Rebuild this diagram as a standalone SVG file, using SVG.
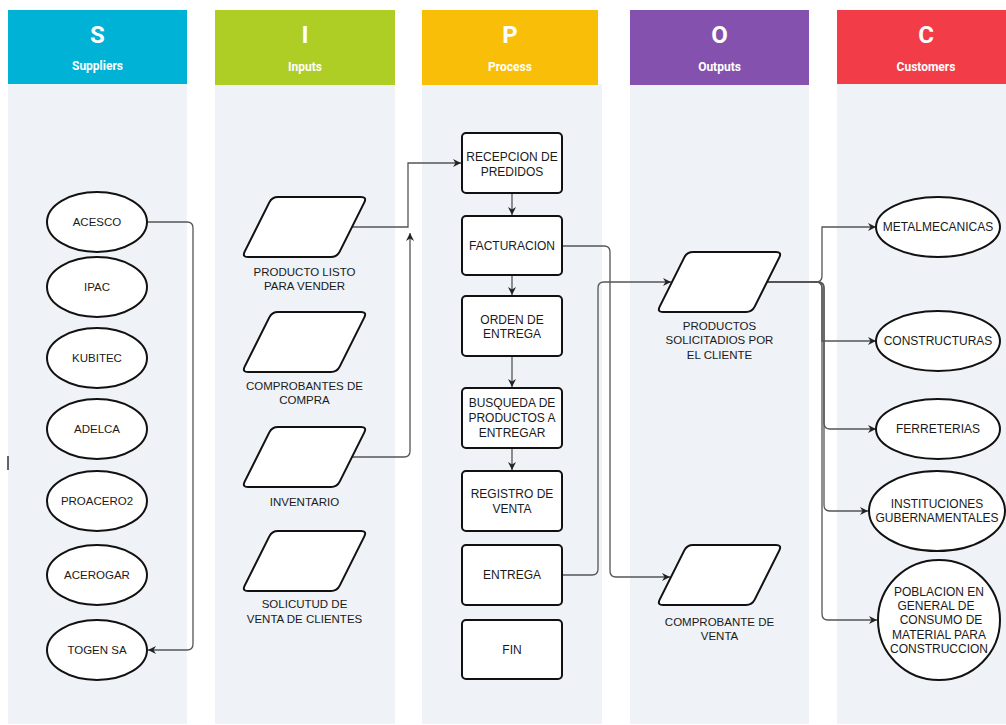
<svg xmlns="http://www.w3.org/2000/svg" xmlns:xlink="http://www.w3.org/1999/xlink" width="1006" height="725" viewBox="0 0 1006 725">
<style>
.body{fill:#eff2f6}
.hl{font-family:Roboto,"Liberation Sans",Arial,sans-serif;font-weight:bold;fill:#fff;text-anchor:middle}
.big{font-size:24px}
.sub{font-size:12px}
.shape{fill:#fff;stroke:#111;stroke-width:2}
.t{font-family:"Liberation Sans",Arial,Helvetica,sans-serif;font-size:11.5px;fill:#1a1a1a;text-anchor:middle}
.t12{font-size:12px}
.c{fill:none;stroke:#555;stroke-width:1.3}
</style>
<defs>
<marker id="arr" markerWidth="10" markerHeight="10" refX="8" refY="4" orient="auto" markerUnits="userSpaceOnUse">
<path d="M0,0 L8,4 L0,8 L2.5,4 z" fill="#222"/>
</marker>
<path id="para" d="M36,0 H119 Q125,0 122.32,5.37 L97.68,54.63 Q95,60 89,60 H6 Q0,60 2.68,54.63 L27.32,5.37 Q30,0 36,0 Z"/>
</defs>
<rect width="1006" height="725" fill="#fff"/>
<g id="columns">
<rect class="body" x="8" y="84" width="179" height="640"/>
<rect class="body" x="215" y="84" width="180" height="640"/>
<rect class="body" x="422" y="84" width="180" height="640"/>
<rect class="body" x="630" y="84" width="179" height="640"/>
<rect class="body" x="837" y="84" width="169" height="640"/>
</g>
<g id="header-s"><rect x="8" y="10" width="179" height="74" fill="#00b2d6"/><text class="hl big" x="97.5" y="43">S</text><text class="hl sub" x="97.5" y="70">Suppliers</text></g>
<g id="header-i"><rect x="215" y="10" width="180" height="75" fill="#aecd25"/><text class="hl big" x="305" y="43">I</text><text class="hl sub" x="305" y="71">Inputs</text></g>
<g id="header-p"><rect x="422" y="10" width="176" height="75" fill="#f9bf08"/><text class="hl big" x="510" y="43">P</text><text class="hl sub" x="510" y="71">Process</text></g>
<g id="header-o"><rect x="630" y="10" width="179" height="75" fill="#8452ae"/><text class="hl big" x="719.5" y="43">O</text><text class="hl sub" x="719.5" y="71">Outputs</text></g>
<g id="header-c"><rect x="837" y="10" width="169" height="74" fill="#f23c47"/><text class="hl big" x="926" y="43">C</text><text class="hl sub" x="926" y="71">Customers</text></g>
<line x1="8" y1="456" x2="8" y2="470" stroke="#333" stroke-width="1.5"/>

<g id="connectors">
<path class="c" d="M147,222 H187 Q193,222 193,228 V644 Q193,650 187,650 H148" marker-end="url(#arr)"/>
<path class="c" d="M352,227 H408 V163 H461" marker-end="url(#arr)"/>
<path class="c" d="M352,457 H404 Q410,457 410,451 V233" marker-end="url(#arr)"/>
<path class="c" d="M512,193 V215" marker-end="url(#arr)"/>
<path class="c" d="M512,275 V295" marker-end="url(#arr)"/>
<path class="c" d="M512,356 V387" marker-end="url(#arr)"/>
<path class="c" d="M512,448 V470" marker-end="url(#arr)"/>
<path class="c" d="M562,246 H604 Q610,246 610,252 V571 Q610,577 616,577 H670" marker-end="url(#arr)"/>
<path class="c" d="M562,575 H592 Q598,575 598,569 V288 Q598,282 604,282 H671" marker-end="url(#arr)"/>
<path class="c" d="M767,282 H816 Q822,282 822,276 V227 H876" marker-end="url(#arr)"/>
<path class="c" d="M767,282 H816 Q822,282 822,288 V341 H876" marker-end="url(#arr)"/>
<path class="c" d="M767,282 H818 Q824,282 824,288 V423 Q824,429 830,429 H876" marker-end="url(#arr)"/>
<path class="c" d="M767,282 H818 Q824,282 824,288 V505 Q824,511 830,511 H868" marker-end="url(#arr)"/>
<path class="c" d="M767,282 H816 Q822,282 822,288 V614 Q822,620 828,620 H877" marker-end="url(#arr)"/>
</g>

<g id="s-acesco"><ellipse class="shape" cx="97" cy="222" rx="50" ry="30"/><text class="t" x="97" y="226">ACESCO</text></g>
<g id="s-ipac"><ellipse class="shape" cx="97" cy="287" rx="50" ry="30"/><text class="t" x="97" y="291">IPAC</text></g>
<g id="s-kubitec"><ellipse class="shape" cx="97" cy="358" rx="50" ry="30"/><text class="t" x="97" y="362">KUBITEC</text></g>
<g id="s-adelca"><ellipse class="shape" cx="97" cy="429" rx="50" ry="30"/><text class="t" x="97" y="433">ADELCA</text></g>
<g id="s-proacero2"><ellipse class="shape" cx="97" cy="501" rx="50" ry="30"/><text class="t" x="97" y="505">PROACERO2</text></g>
<g id="s-acerogar"><ellipse class="shape" cx="97" cy="575" rx="50" ry="30"/><text class="t" x="97" y="579">ACEROGAR</text></g>
<g id="s-togen"><ellipse class="shape" cx="97" cy="650" rx="50" ry="30"/><text class="t" x="97" y="654">TOGEN SA</text></g>

<g id="i-producto"><use xlink:href="#para" class="shape" x="242" y="197"/><text class="t" x="304.5" y="276">PRODUCTO LISTO</text><text class="t" x="304.5" y="290">PARA VENDER</text></g>
<g id="i-comprobantes"><use xlink:href="#para" class="shape" x="242" y="312"/><text class="t" x="304.5" y="390">COMPROBANTES DE</text><text class="t" x="304.5" y="404">COMPRA</text></g>
<g id="i-inventario"><use xlink:href="#para" class="shape" x="242" y="427"/><text class="t" x="304.5" y="506">INVENTARIO</text></g>
<g id="i-solicitud"><use xlink:href="#para" class="shape" x="242" y="531"/><text class="t" x="304.5" y="608">SOLICUTUD DE</text><text class="t" x="304.5" y="623">VENTA DE CLIENTES</text></g>

<g id="p-recepcion"><rect class="shape" x="462" y="133" width="100" height="60" rx="4"/><text class="t t12" x="512" y="161">RECEPCION DE</text><text class="t t12" x="512" y="176">PREDIDOS</text></g>
<g id="p-facturacion"><rect class="shape" x="462" y="216" width="100" height="59" rx="4"/><text class="t t12" x="512" y="250">FACTURACION</text></g>
<g id="p-orden"><rect class="shape" x="462" y="296" width="100" height="60" rx="4"/><text class="t t12" x="512" y="324">ORDEN DE</text><text class="t t12" x="512" y="338">ENTREGA</text></g>
<g id="p-busqueda"><rect class="shape" x="462" y="388" width="100" height="60" rx="4"/><text class="t t12" x="512" y="407">BUSQUEDA DE</text><text class="t t12" x="512" y="422">PRODUCTOS A</text><text class="t t12" x="512" y="437">ENTREGAR</text></g>
<g id="p-registro"><rect class="shape" x="462" y="471" width="100" height="60" rx="4"/><text class="t t12" x="512" y="498">REGISTRO DE</text><text class="t t12" x="512" y="513">VENTA</text></g>
<g id="p-entrega"><rect class="shape" x="462" y="545" width="100" height="60" rx="4"/><text class="t t12" x="512" y="579">ENTREGA</text></g>
<g id="p-fin"><rect class="shape" x="462" y="620" width="100" height="59" rx="4"/><text class="t t12" x="512" y="654">FIN</text></g>

<g id="o-productos"><use xlink:href="#para" class="shape" x="657" y="252"/><text class="t" x="719.5" y="330">PRODUCTOS</text><text class="t" x="719.5" y="344">SOLICITADIOS POR</text><text class="t" x="719.5" y="359">EL CLIENTE</text></g>
<g id="o-comprobante"><use xlink:href="#para" class="shape" x="657" y="545"/><text class="t" x="719.5" y="626">COMPROBANTE DE</text><text class="t" x="719.5" y="640">VENTA</text></g>

<g id="c-metal"><ellipse class="shape" cx="938" cy="227" rx="62" ry="30"/><text class="t t12" x="938" y="231">METALMECANICAS</text></g>
<g id="c-constructuras"><ellipse class="shape" cx="938" cy="341" rx="62" ry="30"/><text class="t t12" x="938" y="345">CONSTRUCTURAS</text></g>
<g id="c-ferreterias"><ellipse class="shape" cx="938" cy="429" rx="62" ry="30"/><text class="t t12" x="938" y="433">FERRETERIAS</text></g>
<g id="c-instituciones"><ellipse class="shape" cx="937" cy="511" rx="68" ry="40"/><text class="t t12" x="937" y="508">INSTITUCIONES</text><text class="t t12" x="937" y="522">GUBERNAMENTALES</text></g>
<g id="c-poblacion"><ellipse class="shape" cx="939" cy="620" rx="61" ry="60"/><text class="t t12" x="939" y="596">POBLACION EN</text><text class="t t12" x="936" y="610">GENERAL DE</text><text class="t t12" x="941" y="624">CONSUMO DE</text><text class="t t12" x="939" y="639">MATERIAL PARA</text><text class="t t12" x="939" y="653">CONSTRUCCION</text></g>
</svg>
